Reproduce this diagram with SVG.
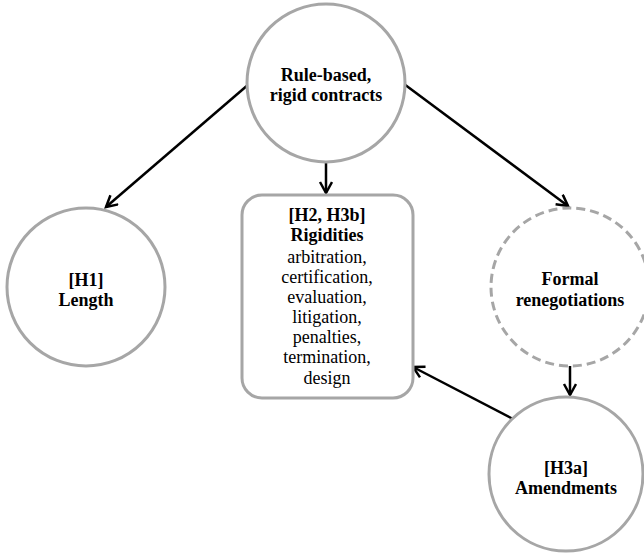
<svg xmlns="http://www.w3.org/2000/svg" width="644" height="557" viewBox="0 0 644 557">
<style>
.node{fill:#fff;stroke:#a6a6a6;stroke-width:3}
.dash{stroke-dasharray:9 5}
.b{font-family:"Liberation Serif","Times New Roman",serif;font-size:18px;font-weight:bold;fill:#000;text-anchor:middle}
.r{font-family:"Liberation Serif","Times New Roman",serif;font-size:18px;fill:#000;text-anchor:middle}
.edge{stroke:#000;stroke-width:2.5;fill:none;marker-end:url(#arr)}
</style>
<defs>
<marker id="arr" markerUnits="userSpaceOnUse" markerWidth="16" markerHeight="16" refX="12" refY="7" orient="auto">
<path d="M1,1 L12,7 L1,13" fill="none" stroke="#000" stroke-width="2.5"/>
</marker>
</defs>
<rect width="644" height="557" fill="#fff"/>
<g id="connectors">
<line class="edge" x1="249" y1="84" x2="106" y2="207"/>
<line class="edge" x1="326" y1="162" x2="326" y2="193"/>
<line class="edge" x1="404" y1="84" x2="568" y2="206"/>
<line class="edge" x1="570" y1="366" x2="570" y2="395"/>
<line class="edge" x1="513" y1="419" x2="413" y2="367"/>
</g>
<g id="rule-based">
<circle class="node" cx="326" cy="83" r="79"/>
<text class="b" x="326" y="81">Rule-based,</text>
<text class="b" x="326" y="101">rigid contracts</text>
</g>
<g id="length">
<circle class="node" cx="86" cy="287" r="79"/>
<text class="b" x="86" y="286">[H1]</text>
<text class="b" x="86" y="306">Length</text>
</g>
<g id="rigidities">
<rect class="node" x="242" y="195" width="171" height="203" rx="20"/>
<text class="b" x="327" y="221">[H2, H3b]</text>
<text class="b" x="327" y="241">Rigidities</text>
<text class="r" x="327" y="263">arbitration,</text>
<text class="r" x="327" y="283">certification,</text>
<text class="r" x="327" y="303">evaluation,</text>
<text class="r" x="327" y="323">litigation,</text>
<text class="r" x="327" y="343">penalties,</text>
<text class="r" x="327" y="363">termination,</text>
<text class="r" x="327" y="384">design</text>
</g>
<g id="formal">
<circle class="node dash" cx="570" cy="287" r="79"/>
<text class="b" x="570" y="285">Formal</text>
<text class="b" x="570" y="306">renegotiations</text>
</g>
<g id="amendments">
<circle class="node" cx="566" cy="474" r="77"/>
<text class="b" x="566" y="474">[H3a]</text>
<text class="b" x="566" y="494">Amendments</text>
</g>
</svg>
